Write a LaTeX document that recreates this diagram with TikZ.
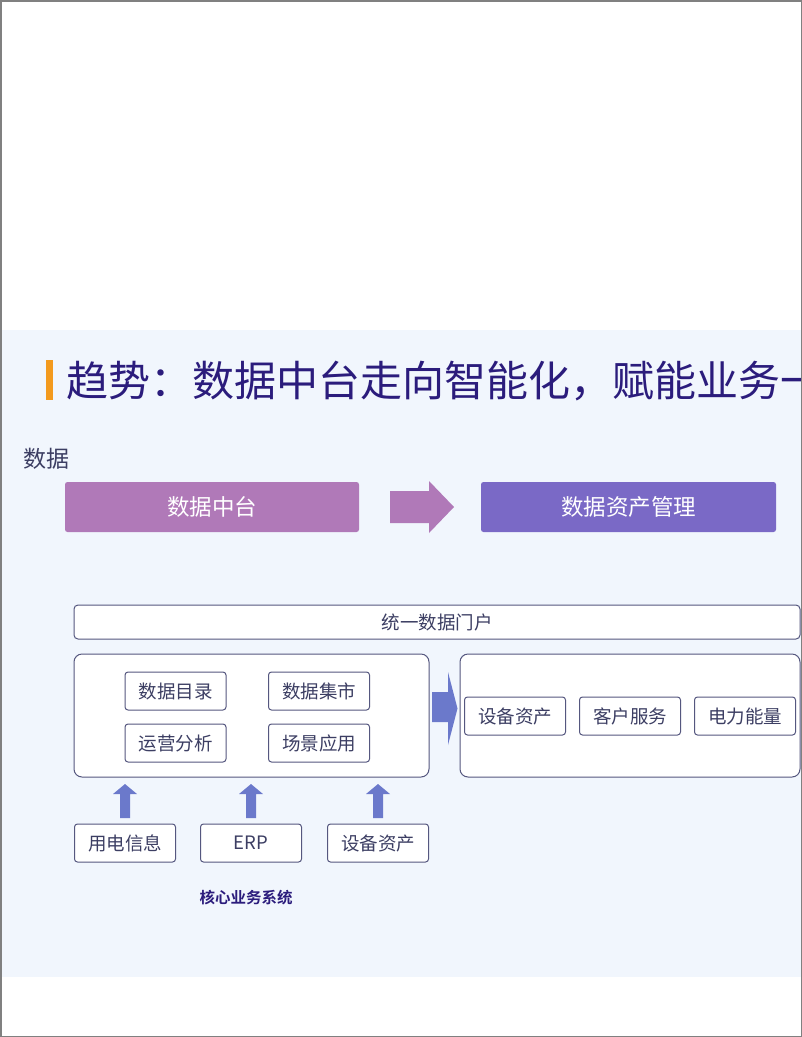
\documentclass[tikz,border=0pt]{standalone}
\usepackage{fontspec}
\setmainfont{Noto Sans CJK SC}
\newfontfamily\cjkb{Noto Sans CJK SC Bold}
\definecolor{bgblue}{HTML}{F1F6FD}
\definecolor{titlec}{HTML}{2B1C7C}
\definecolor{barc}{HTML}{F39A1E}
\definecolor{pinkp}{HTML}{B079B8}
\definecolor{violet}{HTML}{7A69C6}
\definecolor{arrowb}{HTML}{6B79CB}
\definecolor{edgec}{HTML}{55577F}
\definecolor{txtc}{HTML}{3C3E63}
\definecolor{framec}{HTML}{808080}
\tikzset{
  solidbox/.style={rounded corners=2.5pt, minimum width=#1, minimum height=50pt, inner sep=0pt, text=white, font=\fontsize{22.5}{22.5}\selectfont},
  smallbox/.style={draw=edgec, line width=1pt, fill=white, rounded corners=3pt, minimum width=101pt, minimum height=38pt, inner sep=0pt, text=txtc, font=\fontsize{18.5}{18.5}\selectfont},
  bigbox/.style={draw=edgec, line width=1pt, fill=white, rounded corners=8pt, inner sep=0pt},
}
\begin{document}
\begin{tikzpicture}[x=1pt,y=-1pt]
\useasboundingbox (0,0) rectangle (802,1037);
\begin{scope}
\clip (0,0) rectangle (802,1037);
\fill[white] (0,0) rectangle (802,1037);
\fill[bgblue] (1,330) rectangle (801,977);
% title
\fill[barc] (46,360) rectangle (53,400);
\node[anchor=west, inner sep=0pt, text=titlec, font=\fontsize{42}{42}\selectfont] (title) at (66,381) {趋势：数据中台走向智能化，赋能业务一};
\node[anchor=west, inner sep=0pt, text=txtc, font=\fontsize{23}{23}\selectfont] (lbl) at (23,459) {数据};
% top row
\node[solidbox=294pt, fill=pinkp] (zt) at (212,507) {数据中台};
\node[solidbox=295pt, fill=violet] (zc) at (628.5,507) {数据资产管理};
\fill[pinkp] (390,491) -- (429,491) -- (429,481) -- (454,507) -- (429,533) -- (429,523) -- (390,523) -- cycle;
% portal
\node[bigbox, rounded corners=4pt, minimum width=726pt, minimum height=34pt, text=txtc, font=\fontsize{18.5}{18.5}\selectfont] (portal) at (437,622) {统一数据门户};
% big boxes
\node[bigbox, minimum width=355pt, minimum height=123pt] (left) at (251.5,715.5) {};
\node[bigbox, minimum width=340pt, minimum height=123pt] (right) at (630,715.5) {};
\node[smallbox] (b1) at (175.5,691) {数据目录};
\node[smallbox] (b2) at (319,691) {数据集市};
\node[smallbox] (b3) at (175.5,743) {运营分析};
\node[smallbox] (b4) at (319,743) {场景应用};
\node[smallbox] (r1) at (515,716) {设备资产};
\node[smallbox] (r2) at (630,716) {客户服务};
\node[smallbox] (r3) at (745,716) {电力能量};
\fill[arrowb] (432,692) -- (448,692) -- (448,672) -- (457.5,708.5) -- (448,745) -- (448,722) -- (432,722) -- cycle;
% bottom sources
\node[smallbox] (s1) at (125,843) {用电信息};
\node[smallbox] (s2) at (251,843) {ERP};
\node[smallbox] (s3) at (378,843) {设备资产};
\foreach \cx in {125,251,378}{
  \fill[arrowb] (\cx-5,818) -- (\cx-5,794) -- (\cx-12,794) -- (\cx,784) -- (\cx+12,794) -- (\cx+5,794) -- (\cx+5,818) -- cycle;
}
\node[inner sep=0pt, text=titlec, font=\cjkb\fontsize{15.5}{15.5}\selectfont] (core) at (246,898) {核心业务系统};
\draw[framec, line width=1.5pt] (0.75,0.75) rectangle (801.25,1036.25);
\end{scope}
\end{tikzpicture}
\end{document}
